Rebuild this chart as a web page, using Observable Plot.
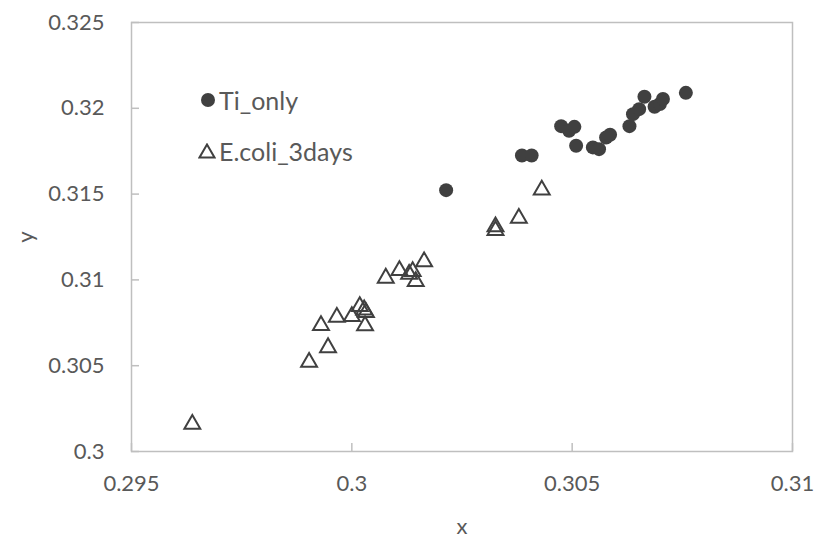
<!DOCTYPE html>
<html>
<head>
<meta charset="utf-8">
<script src="https://cdn.jsdelivr.net/npm/d3@7"></script>
<script src="https://cdn.jsdelivr.net/npm/@observablehq/plot@0.6"></script>
<style>
  html, body { margin: 0; padding: 0; background: #fff; }
  #wrap { position: relative; width: 815px; height: 537px; font-family: Lato, "Open Sans", sans-serif; }
  .leg { position: absolute; display: flex; align-items: center; color: #595959; font-size: 25px; line-height: 28px; white-space: nowrap; }
  .leg svg { display: block; margin-right: 3px; }
</style>
</head>
<body>
<div id="wrap"></div>
<script>
const seriesNames = ["Ti_only", "E.coli_3days"];

const tiX = [0.30214,0.30386,0.30408,0.30475,0.30493,0.30505,0.30509,0.30547,0.30561,0.30577,0.30586,0.30630,0.30638,0.30652,0.30664,0.30687,0.30699,0.30706,0.30758];
const tiY = [0.31523,0.31725,0.31725,0.31896,0.31869,0.31892,0.31782,0.31772,0.31762,0.31830,0.31846,0.31896,0.31966,0.31995,0.32067,0.32009,0.32025,0.32054,0.32090];

const ecX = [0.29638,0.29903,0.29946,0.29930,0.29966,0.30000,0.30018,0.30028,0.30032,0.30030,0.30077,0.30108,0.30130,0.30138,0.30145,0.30164,0.30326,0.30326,0.30379,0.30431];
const ecY = [0.30154,0.30515,0.30600,0.30729,0.30777,0.30781,0.30839,0.30820,0.30804,0.30727,0.31005,0.31049,0.31028,0.31043,0.30985,0.31101,0.31305,0.31282,0.31354,0.31519];

const xTicks = [0.295, 0.300, 0.305, 0.310];
const yTicks = [0.300, 0.305, 0.310, 0.315, 0.320, 0.325];

const ti = tiX.map((x, i) => ({x, y: tiY[i]}));
const ec = ecX.map((x, i) => ({x, y: ecY[i]}));

const fmt = d => String(+d.toFixed(3));
const ink = "#404040";
const axisGray = "#bfbfbf";
const textGray = "#595959";
const fs = 22;

const chart = Plot.plot({
  width: 815,
  height: 537,
  marginLeft: 131,
  marginRight: 23,
  marginTop: 22,
  marginBottom: 86,
  style: { fontFamily: "Lato, 'Open Sans', sans-serif", background: "#fff" },
  x: { domain: [0.295, 0.31] },
  y: { domain: [0.3, 0.325] },
  marks: [
    Plot.frame({ stroke: axisGray, strokeWidth: 1.5 }),
    Plot.axisX({ ticks: xTicks, tickSize: -8, stroke: axisGray, strokeWidth: 1.5, tickFormat: () => "", label: null }),
    Plot.axisY({ ticks: yTicks, tickSize: -8, stroke: axisGray, strokeWidth: 1.5, tickFormat: () => "", label: null }),
    Plot.axisX({ ticks: xTicks, tickSize: 0, tickPadding: 24, tickFormat: fmt, fontSize: fs, fill: textGray,
      label: "x", labelAnchor: "center", labelOffset: 82, labelArrow: "none" }),
    Plot.axisY({ ticks: yTicks, tickSize: 0, tickPadding: 27, tickFormat: fmt, fontSize: fs, fill: textGray,
      label: "y", labelAnchor: "center", labelOffset: 114, labelArrow: "none" }),
    Plot.dot(ec, { x: "x", y: "y", symbol: "triangle", r: 5.9, stroke: ink, strokeWidth: 2, fill: "none", dy: -1 }),
    Plot.dot(ti, { x: "x", y: "y", symbol: "circle", r: 7, fill: ink, stroke: "none" })
  ]
});
chart.querySelectorAll("g[aria-label='x-axis label'] text, g[aria-label='y-axis label'] text").forEach(t => {
  t.setAttribute("font-size", fs); t.setAttribute("fill", textGray);
});
const wrap = document.getElementById("wrap");
wrap.appendChild(chart);

// legend inside the plot area
function addLegend(name, symbolSvg, left, top) {
  const d = document.createElement("div");
  d.className = "leg";
  d.style.left = left + "px";
  d.style.top = top + "px";
  d.innerHTML = symbolSvg + "<span>" + name + "</span>";
  wrap.appendChild(d);
}
addLegend(seriesNames[0], `<svg width="16" height="16"><circle cx="8" cy="8" r="7" fill="${ink}"/></svg>`, 200, 86);
addLegend(seriesNames[1], `<svg width="18" height="16"><path d="M9,1.5 L16.5,14.5 L1.5,14.5 Z" fill="none" stroke="${ink}" stroke-width="2"/></svg>`, 198, 137);
</script>
</body>
</html>
